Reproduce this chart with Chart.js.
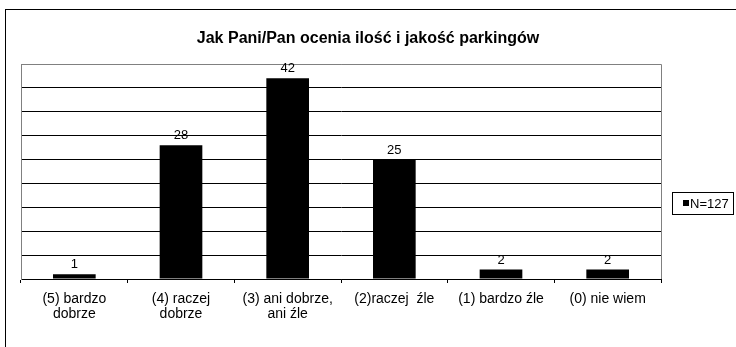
<!DOCTYPE html>
<html>
<head>
<meta charset="utf-8">
<script src="https://cdn.jsdelivr.net/npm/chart.js@4.4.1/dist/chart.umd.min.js"></script>
<style>
    html, body { margin: 0; padding: 0; background: #ffffff; }
    #wrap { position: relative; width: 736px; height: 347px; }
</style>
</head>
<body>
<div id="wrap"><canvas id="parkingChart" width="736" height="347"></canvas></div>
<script>
const chartTitle = 'Jak Pani/Pan ocenia ilość i jakość parkingów';
const categories = [
    ['(5) bardzo', 'dobrze'],
    ['(4) raczej', 'dobrze'],
    ['(3) ani dobrze,', 'ani źle'],
    '(2)raczej  źle',
    '(1) bardzo źle',
    '(0) nie wiem'
];
const seriesLabel = 'N=127';
const seriesValues = [1, 28, 42, 25, 2, 2];
const yMax = 45;
const yStep = 5;

const FONT = "'Liberation Sans', Arial, sans-serif";

// frame, title, plot border, value labels and the boxed legend
const decorations = {
    id: 'decorations',
    beforeDraw(chart) {
        const ctx = chart.ctx;
        ctx.save();
        ctx.fillStyle = '#ffffff';
        ctx.fillRect(0, 0, chart.width, chart.height);
        ctx.strokeStyle = '#000000';
        ctx.lineWidth = 1;
        ctx.strokeRect(5.5, 9.5, chart.width + 20, chart.height + 20);

        ctx.fillStyle = '#000000';
        ctx.font = "bold 16px " + FONT;
        ctx.textAlign = 'center';
        ctx.textBaseline = 'alphabetic';
        ctx.fillText(chartTitle, chart.width / 2, 43);
        ctx.restore();
    },
    afterDatasetsDraw(chart) {
        const ctx = chart.ctx;
        const area = chart.chartArea;
        ctx.save();
        // grey plot border on the top, left and right
        ctx.strokeStyle = '#808080';
        ctx.lineWidth = 1;
        ctx.beginPath();
        ctx.moveTo(Math.round(area.left) + 0.5, Math.round(area.bottom));
        ctx.lineTo(Math.round(area.left) + 0.5, Math.round(area.top) + 0.5);
        ctx.lineTo(Math.round(area.right) + 0.5, Math.round(area.top) + 0.5);
        ctx.lineTo(Math.round(area.right) + 0.5, Math.round(area.bottom));
        ctx.stroke();

        // values above bars
        const meta = chart.getDatasetMeta(0);
        ctx.fillStyle = '#000000';
        ctx.font = "13px " + FONT;
        ctx.textAlign = 'center';
        ctx.textBaseline = 'bottom';
        meta.data.forEach((bar, i) => {
            ctx.fillText(String(seriesValues[i]), bar.x, bar.y - 3);
        });

        // legend box
        const lx = 672.5, ly = 192.5, lw = 61, lh = 22;
        ctx.strokeStyle = '#000000';
        ctx.strokeRect(lx, ly, lw, lh);
        ctx.fillStyle = '#000000';
        ctx.fillRect(683, 200, 6, 6);
        ctx.font = "13px " + FONT;
        ctx.textAlign = 'left';
        ctx.textBaseline = 'middle';
        ctx.fillText(chart.data.datasets[0].label, 690, 204);
        ctx.restore();
    }
};

new Chart(document.getElementById('parkingChart'), {
    type: 'bar',
    data: {
        labels: categories,
        datasets: [{
            label: seriesLabel,
            data: seriesValues,
            backgroundColor: '#000000',
            borderWidth: 0,
            barPercentage: 0.4,
            categoryPercentage: 1.0
        }]
    },
    options: {
        responsive: false,
        animation: false,
        layout: { padding: { left: 21, right: 75, top: 64, bottom: 0 } },
        scales: {
            x: {
                grid: {
                    offset: true,
                    drawOnChartArea: false,
                    drawTicks: true,
                    tickLength: 4,
                    color: '#000000'
                },
                border: { display: true, color: '#000000' },
                ticks: {
                    color: '#000000',
                    font: { family: FONT, size: 14, lineHeight: 1.1 },
                    padding: 8,
                    maxRotation: 0,
                    autoSkip: false
                },
                afterFit(scale) { scale.height = 68; }
            },
            y: {
                min: 0,
                max: yMax,
                ticks: { display: false, stepSize: yStep },
                grid: {
                    drawTicks: false,
                    color: ctx => (ctx.tick && ctx.tick.value === yMax) ? '#808080' : '#000000'
                },
                border: { display: true, color: '#808080' },
                afterFit(scale) { scale.width = 0; }
            }
        },
        plugins: {
            legend: { display: false },
            title: { display: false },
            tooltip: { enabled: false }
        }
    },
    plugins: [decorations]
});
</script>
</body>
</html>
